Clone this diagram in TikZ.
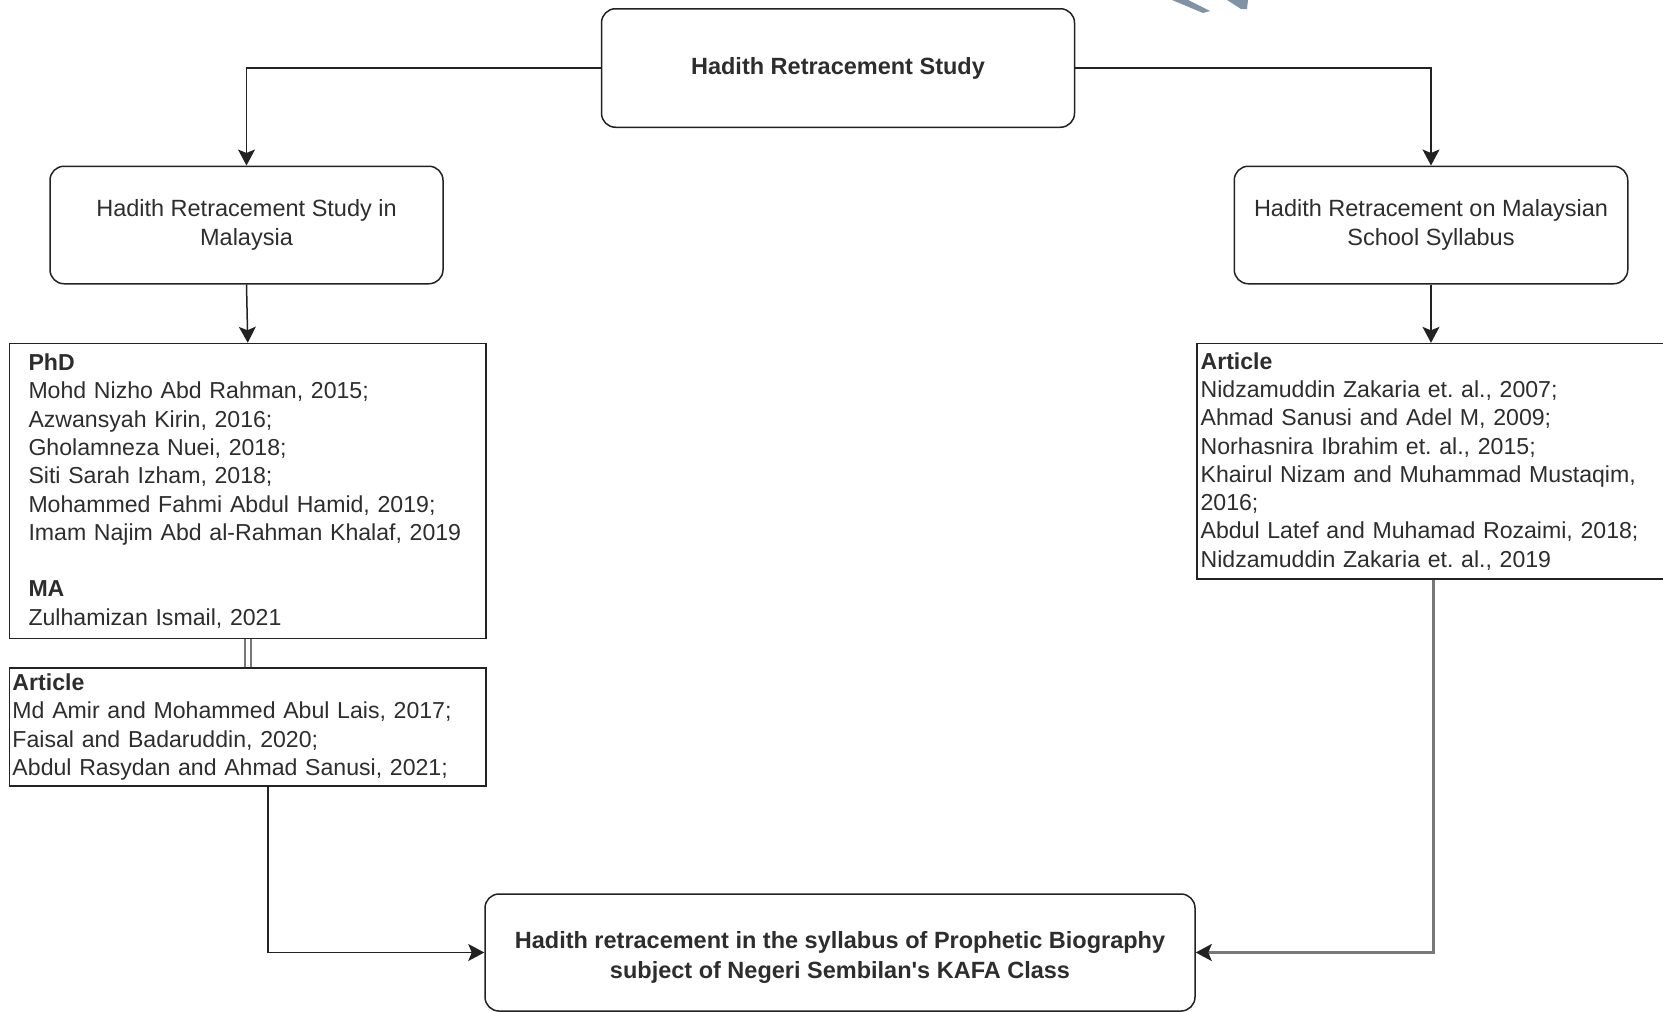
\documentclass[tikz,border=0pt]{standalone}
\usepackage{fontspec}
\setmainfont{Liberation Sans}
\usepackage{xcolor}
\usetikzlibrary{arrows.meta, positioning, calc}
\definecolor{boxline}{RGB}{34, 34, 34}
\definecolor{bodytext}{RGB}{45, 45, 45}
\definecolor{linkgray}{RGB}{120, 120, 120}
\definecolor{markblue}{RGB}{128, 146, 166}

\newcommand{\bodyfont}{\fontsize{23.5}{28.3}\selectfont}
\newcommand{\listfont}{\fontsize{23.1}{28.3}\selectfont}
\frenchspacing

\tikzset{
    roundbox/.style={draw=boxline, line width=1.5pt, rounded corners=14pt, align=center,
          inner sep=0pt, text=bodytext},
    listbox/.style={draw=boxline, line width=1.5pt, align=left, inner ysep=0pt, text=bodytext, font=\listfont},
    link/.style={draw=boxline, line width=1.5pt, -{Stealth[length=16pt, width=17pt, inset=3.5pt]}},
}

\begin{document}
\begin{tikzpicture}[x=1pt, y=-1pt, font=\bodyfont]
    \useasboundingbox (0,0) rectangle (1663,1012);

    % faint mark at the top
    \fill[markblue] (1172,0) -- (1188,0) -- (1210,11) -- (1203,13) -- cycle;
    \fill[markblue] (1227,0) -- (1248,0) -- (1247,9) -- (1241,9) -- cycle;

    % rounded boxes
    \node[roundbox, minimum width=473pt, minimum height=118.5pt, font=\bodyfont\bfseries] (study) at (838,68)
        {Hadith Retracement Study};
    \node[roundbox, minimum width=393pt, minimum height=117.5pt] (lbox) at (246.5,225)
        {Hadith Retracement Study in\\Malaysia};
    \node[roundbox, minimum width=393.5pt, minimum height=117.5pt] (rbox) at (1431,225)
        {Hadith Retracement on Malaysian\\School Syllabus};
    \node[roundbox, minimum width=710pt, minimum height=117pt, font=\fontsize{23.5}{29.5}\selectfont\bfseries] (kafa) at (840,952.5)
        {\\[-3pt]Hadith retracement in the syllabus of Prophetic Biography\\subject of Negeri Sembilan\textquotesingle s KAFA Class};

    % reference lists
    \node[listbox, minimum width=476.5pt, minimum height=295pt, inner xsep=19pt, text width=438.5pt] (phd) at (247.75,491) {
        \textbf{PhD}\\
        Mohd Nizho Abd Rahman, 2015;\\
        Azwansyah Kirin, 2016;\\
        Gholamneza Nuei, 2018;\\
        Siti Sarah Izham, 2018;\\
        Mohammed Fahmi Abdul Hamid, 2019;\\
        \mbox{Imam Najim Abd al-Rahman Khalaf, 2019}\\[28.3pt]
        \textbf{MA}\\
        Zulhamizan Ismail, 2021
    };
    \node[listbox, minimum width=476.5pt, minimum height=118pt, inner xsep=3pt, text width=470.5pt] (lart) at (247.75,727) {
        \textbf{Article}\\
        Md Amir and Mohammed Abul Lais, 2017;\\
        Faisal and Badaruddin, 2020;\\
        Abdul Rasydan and Ahmad Sanusi, 2021;
    };
    \node[listbox, minimum width=473pt, minimum height=235.4pt, inner xsep=3.6pt, text width=465.8pt] (rart) at (1433.5,461.3) {
        \textbf{Article}\\
        Nidzamuddin Zakaria et. al., 2007;\\
        Ahmad Sanusi and Adel M, 2009;\\
        Norhasnira Ibrahim et. al., 2015;\\
        Khairul Nizam and Muhammad Mustaqim,\\
        2016;\\
        Abdul Latef and Muhamad Rozaimi, 2018;\\
        Nidzamuddin Zakaria et. al., 2019
    };

    % connectors
    \draw[link] (study.west) -| (lbox.north);
    \draw[link] (study.east) -| (rbox.north);
    \draw[link] (lbox.south) -- (phd.north);
    \draw[link] (rbox.south) -- (rbox.south |- rart.north);
    \draw[linkgray, line width=2.5pt, double=white, double distance=3.5pt] (phd.south) -- (lart.north);
    \draw[link] ($(lart.south)+(20,0)$) |- (kafa.west);
    \draw[link, draw=linkgray, line width=2.5pt, -{Stealth[length=16pt, width=17pt, inset=3.5pt, color=boxline]}]
        (rart.south) |- (kafa.east);
\end{tikzpicture}
\end{document}
